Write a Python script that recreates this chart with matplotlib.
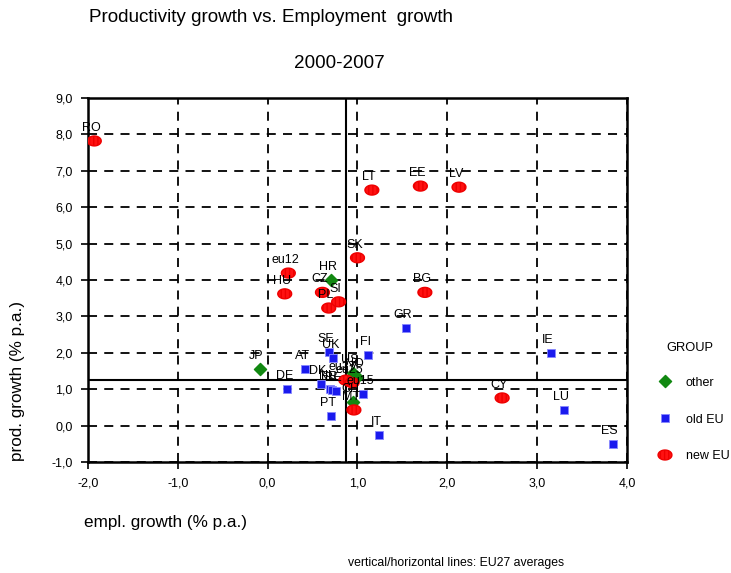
import matplotlib
matplotlib.use("Agg")
import matplotlib.pyplot as plt
import numpy as np
from matplotlib.path import Path

plt.rcParams['font.family'] = ['Liberation Sans', 'DejaVu Sans']

# ---- data ----
other_labels = ["JP", "HR", "US", "NO", "CH"]
other_x = [-0.09, 0.70, 0.95, 1.00, 0.95]
other_y = [1.56, 4.00, 1.44, 1.34, 0.65]

old_labels = ["SE", "UK", "FI", "AT", "DE", "DK", "NL", "FR", "BE", "eu15", "PT", "IT", "GR", "IE", "LU", "ES"]
old_x = [0.68, 0.73, 1.12, 0.42, 0.22, 0.59, 0.69, 0.72, 0.76, 1.06, 0.70, 1.24, 1.54, 3.15, 3.30, 3.84]
old_y = [2.02, 1.86, 1.94, 1.55, 1.00, 1.14, 1.01, 0.98, 0.95, 0.87, 0.26, -0.26, 2.68, 1.99, 0.43, -0.51]

new_labels = ["RO", "LT", "EE", "LV", "SK", "eu12", "HU", "CZ", "PL", "SI", "BG", "CY", "MT", "eu27", "eu25"]
new_x = [-1.93, 1.16, 1.70, 2.13, 1.00, 0.23, 0.19, 0.61, 0.68, 0.79, 1.75, 2.61, 0.96, 0.87, 0.94]
new_y = [7.82, 6.47, 6.58, 6.55, 4.61, 4.19, 3.62, 3.66, 3.23, 3.40, 3.66, 0.76, 0.43, 1.25, 1.18]

avg_x = 0.87
avg_y = 1.25

x_ticks = [-2, -1, 0, 1, 2, 3, 4]
y_ticks = [-1, 0, 1, 2, 3, 4, 5, 6, 7, 8, 9]

# ---- figure ----
fig = plt.figure(figsize=(7.31, 5.73), dpi=100)
ax = fig.add_axes([88/731, 1-462/573, (627-88)/731, (462-98)/573])
ax.set_xlim(-2, 4)
ax.set_ylim(-1, 9)
ax.set_xticks(x_ticks)
ax.set_yticks(y_ticks)
ax.set_xticklabels([f"{v:.1f}".replace('.', ',') for v in x_ticks], fontsize=9)
ax.set_yticklabels([f"{v:.1f}".replace('.', ',') for v in y_ticks], fontsize=9)
ax.tick_params(direction='out', length=5, width=1.2, pad=6)
for s in ax.spines.values():
    s.set_linewidth(1.8)
ax.grid(True, color='black', linestyle=(0, (5, 4)), linewidth=1.3)
ax.set_axisbelow(True)

ax.axvline(avg_x, color='black', linewidth=1.5, zorder=2)
ax.axhline(avg_y, color='black', linewidth=1.5, zorder=2)

# ellipse-like marker for new EU
t = np.linspace(0, 2*np.pi, 40)
ell = Path(np.column_stack([1.4*np.cos(t), np.sin(t)]))

ax.scatter(other_x, other_y, marker='D', s=38, color='#118811', edgecolors='#118811', zorder=4, label='other')
ax.scatter(old_x, old_y, marker='s', s=30, color='#1a1aee', edgecolors='#8888ff', linewidths=0.6, zorder=4, label='old EU')
ax.scatter(new_x, new_y, marker=ell, s=100, color='#ff1111', edgecolors='#ee0000', hatch='||||', zorder=4, label='new EU')

for labs, xs, ys in [(other_labels, other_x, other_y), (old_labels, old_x, old_y), (new_labels, new_x, new_y)]:
    for l, x, y in zip(labs, xs, ys):
        ax.annotate(l, (x, y), xytext=(-3, 7), textcoords='offset pixels',
                    ha='center', va='bottom', fontsize=9, zorder=5)

# titles and labels
fig.text(271/731, 1-18/573, "Productivity growth vs. Employment  growth", ha='center', va='center', fontsize=13.6)
fig.text(339/731, 1-64/573, "2000-2007", ha='center', va='center', fontsize=13.6)
fig.text(18/731, 1-381/573, "prod. growth (% p.a.)", rotation=90, ha='center', va='center', fontsize=12.3)
fig.text(84/731, 1-523/573, "empl. growth (% p.a.)", ha='left', va='center', fontsize=12.3)
fig.text(348/731, 1-563/573, "vertical/horizontal lines: EU27 averages", ha='left', va='center', fontsize=8.8)

# legend
fig.text(690/731, 1-348/573, "GROUP", ha='center', va='center', fontsize=9.3)
fig.text(686/731, 1-383/573, "other", ha='left', va='center', fontsize=9)
fig.text(686/731, 1-420/573, "old EU", ha='left', va='center', fontsize=9)
fig.text(686/731, 1-456/573, "new EU", ha='left', va='center', fontsize=9)
lax = fig.add_axes([0, 0, 1, 1], facecolor='none')
lax.set_xlim(0, 731)
lax.set_ylim(573, 0)
lax.axis('off')
lax.scatter([665], [381], marker='D', s=38, color='#118811')
lax.scatter([665], [418], marker='s', s=30, color='#1a1aee', edgecolors='#8888ff', linewidths=0.6)
lax.scatter([665], [455], marker=ell, s=100, color='#ff1111', edgecolors='#ee0000', hatch='||||')

fig.savefig("out.png", dpi=100)
